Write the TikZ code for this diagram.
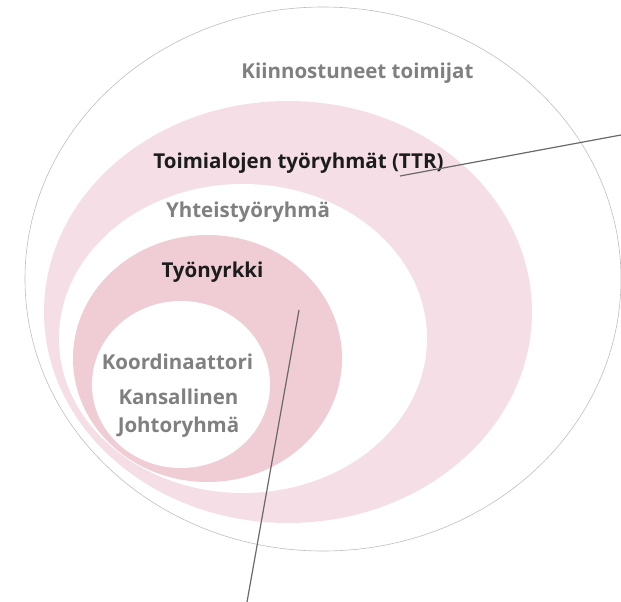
\documentclass[tikz,border=0pt]{standalone}
\usepackage{fontspec}
\setmainfont{Open Sans}

\definecolor{pinklight}{RGB}{245,222,229}
\definecolor{pinkdark}{RGB}{240,204,213}
\definecolor{labelgray}{RGB}{128,128,128}
\definecolor{labeldark}{RGB}{28,28,28}
\definecolor{rimgray}{RGB}{190,190,190}
\definecolor{leadergray}{RGB}{105,105,105}

\tikzset{
	grouplabel/.style={font=\bfseries\fontsize{20.5}{24}\selectfont, text=labelgray, inner sep=0pt},
	corelabel/.style={grouplabel, text=labeldark},
	leader/.style={draw=leadergray, line width=1.2pt},
}

\begin{document}
\begin{tikzpicture}[x=1pt, y=-1pt]
	\useasboundingbox (0,0) rectangle (621,602);
	\draw[rimgray, line width=0.6pt] (323,279) ellipse (298 and 272);
	\fill[pinklight] (288,312) ellipse (244 and 211);
	\fill[white] (243,338.5) ellipse (184 and 154.5);
	\fill[pinkdark] (207.5,358.5) ellipse (134.5 and 123.5);
	\fill[white] (181,384.5) ellipse (89 and 83.5);
	
	\node[grouplabel] (kiinnostuneet) at (357.5,73) {Kiinnostuneet toimijat};
	\node[corelabel] (ttr) at (298.5,163) {Toimialojen työryhmät (TTR)};
	\node[grouplabel] (yhteistyo) at (248,212) {Yhteistyöryhmä};
	\node[corelabel] (nyrkki) at (212.5,272) {Työnyrkki};
	\node[grouplabel] (koordinaattori) at (177.5,362) {Koordinaattori};
	\node[grouplabel] (kansallinen) at (178.5,397) {Kansallinen};
	\node[grouplabel] (johto) at (178.5,427) {Johtoryhmä};
	
	\coordinate (TTR1) at (400,176);
	\coordinate (TTR2) at (621,135);
	\coordinate (NY1) at (299,310);
	\coordinate (NY2) at (247,602);
	
	\draw[leader] (TTR1) -- (TTR2);
	\draw[leader] (NY1) -- (NY2);
\end{tikzpicture}
\end{document}
